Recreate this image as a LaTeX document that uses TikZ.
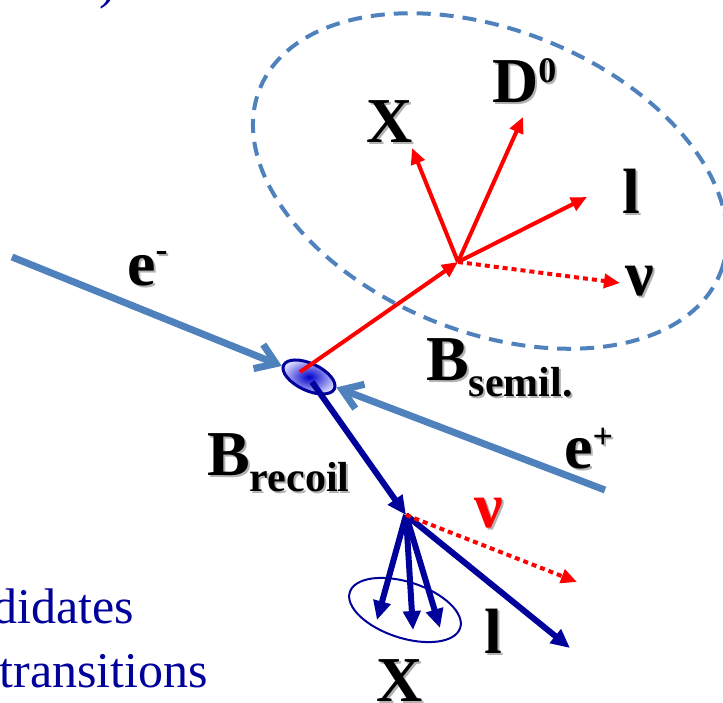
\documentclass[tikz,border=0pt]{standalone}
\usepackage{fontspec}
\setmainfont{Liberation Serif}
\usetikzlibrary{arrows.meta,shapes.geometric}
\definecolor{beamblue}{RGB}{79,129,189}
\definecolor{dkblue}{RGB}{0,0,155}
\tikzset{
  plbl/.style   = {font=\fontsize{64}{64}\selectfont\bfseries, inner sep=0pt, anchor=base},
  txtlbl/.style = {font=\fontsize{50}{50}\selectfont, text=dkblue, inner sep=0pt, anchor=base east},
  beam/.style   = {draw=beamblue, line width=7pt, -{Straight Barb[length=19pt,width=26pt]}},
  rtrk/.style   = {draw=red, line width=4pt, -{Triangle[length=16pt,width=14pt]}},
  rnu/.style    = {rtrk, dash pattern=on 5pt off 4pt},
  btrk/.style   = {draw=dkblue, line width=6pt, -{Triangle[length=19pt,width=17pt]}},
  grp/.style    = {draw=beamblue, line width=4pt, dash pattern=on 14pt off 9pt}
}
\newcommand{\shd}[1]{\leavevmode\rlap{\kern2pt\raisebox{-2pt}{\color{black!30}#1}}#1}
\newcommand{\subtxt}[1]{\raisebox{-16pt}{\fontsize{42}{42}\selectfont #1}}
\newcommand{\suptxt}[2]{\raisebox{#1}{\fontsize{36}{36}\selectfont #2}}

\begin{document}
\begin{tikzpicture}[x=1pt, y=-1pt]
\useasboundingbox (0,0) rectangle (723,702);
\clip (0,0) rectangle (723,702);

% ---- points ----
\coordinate (em)  at (12,257);
\coordinate (ep)  at (605,490);
\coordinate (ip)  at (300,372);
\coordinate (ipb) at (312,382);
\coordinate (vs)  at (458,262);
\coordinate (vr)  at (406,515);
\coordinate (tx)  at (412,148);
\coordinate (td)  at (523,117);
\coordinate (tl)  at (587,197);
\coordinate (tn)  at (620,283);
\coordinate (tx1) at (377,620);
\coordinate (tx2) at (413,630);
\coordinate (tx3) at (440,628);
\coordinate (tl2) at (570,648);
\coordinate (tn2) at (577,582);

% ---- semileptonic side ----
\draw[grp] (490,181) circle[x radius=248pt, y radius=151pt, rotate=-21.8];

% ---- beams and collision ----
\node[ellipse, draw=dkblue, line width=3pt, minimum width=56pt, minimum height=27pt,
      inner sep=0pt, rotate=-25, inner color=blue!80!black, outer color=blue!15] (coll) at (309,377) {};
\draw[beam] (em) -- (coll);
\draw[beam] (ep) -- (coll);

% ---- B semil. decay ----
\draw[rtrk] (ip) -- (vs);
\draw[rtrk] (vs) -- (tx);
\draw[rtrk] (vs) -- (td);
\draw[rtrk] (vs) -- (tl);
\draw[rnu]  (vs) -- (tn);

% ---- B recoil decay ----
\draw[btrk] (ipb) -- (vr);
\foreach \t in {tx1,tx2,tx3}
  \draw[btrk] (vr) -- (\t);
\draw[btrk] (vr) -- (tl2);
\draw[rnu]  (vr) -- (tn2);
\node[ellipse, draw=dkblue, line width=2pt, minimum width=116pt, minimum height=56pt,
      rotate=-18] (xgrp) at (405,610) {};

% ---- labels ----
\node[plbl] (lx) at (390,142) {\shd{X}};
\node[plbl, anchor=base west] (ld) at (492,102) {\shd{D\suptxt{20pt}{0}}};
\node[plbl] (ll) at (631,213) {\shd{l}};
\node[plbl] (lnu) at (640,295) {\shd{ν}};
\node[plbl, anchor=base west] (lem) at (127,285) {\shd{e\suptxt{24pt}{-}}};
\node[plbl, anchor=base west] (lep) at (564,468) {\shd{e\suptxt{20pt}{+}}};
\node[plbl, anchor=base west] (lbs) at (426,380) {\shd{B\subtxt{semil.}}};
\node[plbl, anchor=base west] (lbr) at (207,475) {\shd{B\subtxt{recoil}}};
\node[plbl, text=red] (lnu2) at (489,527) {\shd{ν}};
\node[plbl] (ll2) at (493,653) {\shd{l}};
\node[plbl] (lx2) at (400,701) {\shd{X}};

% ---- cut text ----
\node[txtlbl, anchor=base west] (paren) at (99,-2) {)};
\node[txtlbl] (cand)  at (134,623) {didates};
\node[txtlbl] (trans) at (208,687) {transitions};
\end{tikzpicture}
\end{document}
